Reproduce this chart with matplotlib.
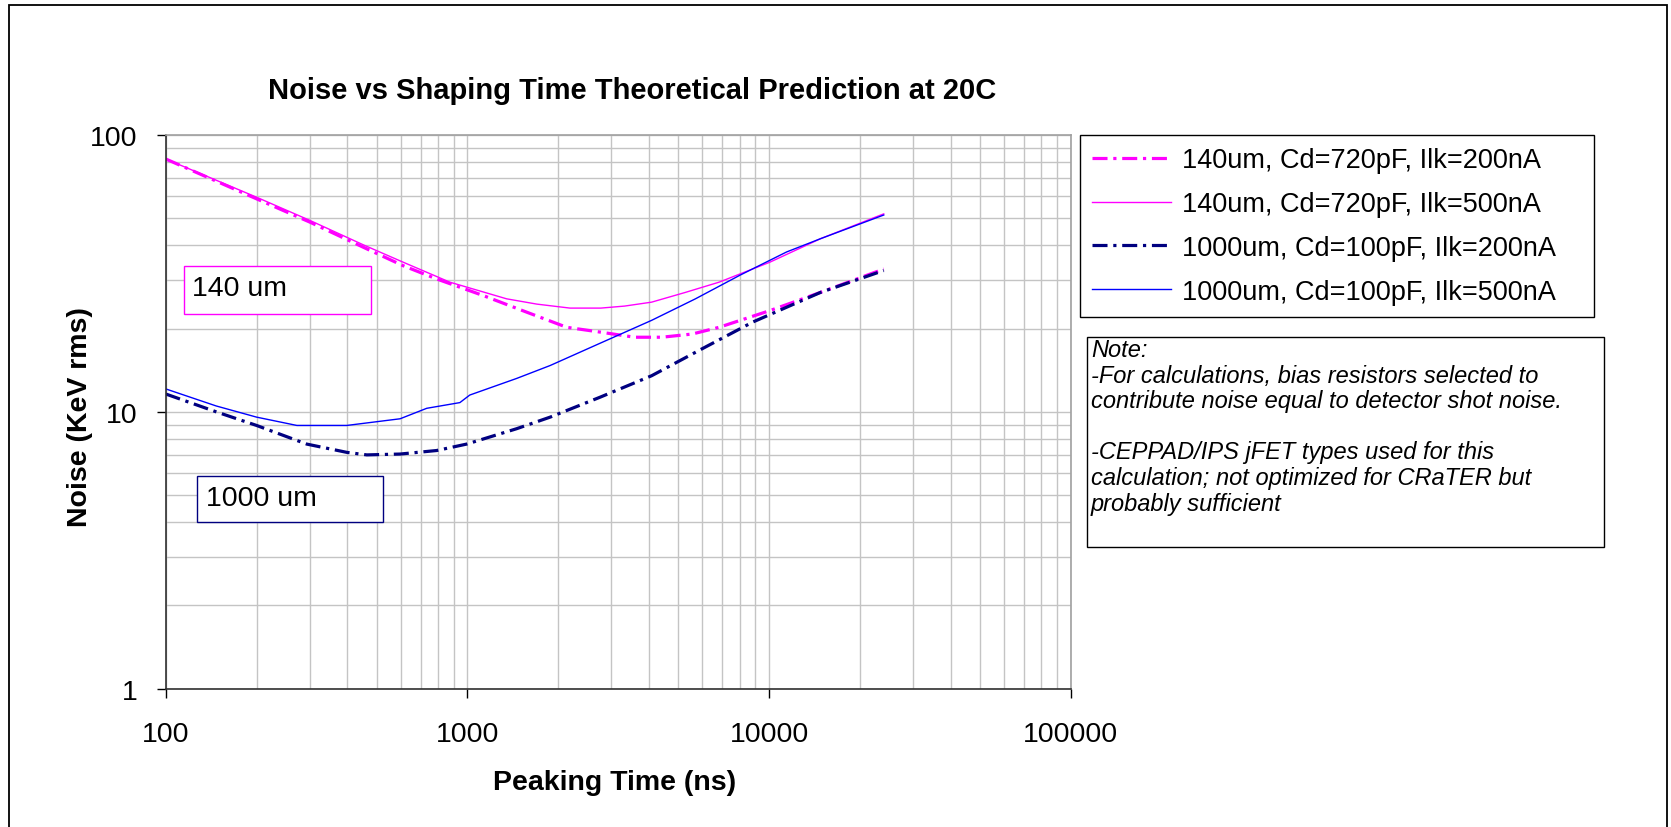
import numpy as np
import matplotlib
matplotlib.use('Agg')
import matplotlib.pyplot as plt
from matplotlib.patches import Rectangle
from matplotlib.ticker import FixedLocator, NullFormatter

plt.rcParams['font.family'] = ['Liberation Sans', 'DejaVu Sans']

# ---- data (peaking time ns, noise keV rms) ----
x_140_200 = [100, 200, 301, 452, 613, 791, 1129, 1574, 2135, 2767, 3584, 4406, 5558, 6826, 10050, 14800, 24000]
y_140_200 = [81.9, 58.8, 48.4, 39.3, 33.7, 30.2, 26.3, 22.9, 20.2, 19.4, 18.6, 18.6, 19.1, 20.2, 23.2, 27.0, 32.8]

x_140_500 = [100, 200, 301, 452, 613, 875, 1349, 1698, 2188, 2767, 3318, 4078, 5276, 6826, 10050, 14800, 24000]
y_140_500 = [81.9, 59.6, 49.1, 40.1, 34.7, 29.4, 25.6, 24.5, 23.7, 23.7, 24.1, 24.9, 27.0, 29.4, 34.7, 42.2, 51.9]

x_1000_200 = [100, 147, 200, 293, 398, 464, 598, 791, 995, 1455, 1880, 2755, 4078, 6000, 8830, 14800, 24000]
y_1000_200 = [11.6, 10.0, 8.93, 7.65, 7.14, 6.99, 7.04, 7.25, 7.65, 8.69, 9.57, 11.3, 13.5, 16.9, 21.1, 27.0, 32.4]

x_1000_500 = [100, 147, 200, 272, 398, 598, 733, 944, 1018, 1455, 1880, 2755, 4078, 5700, 7980, 11430, 14800, 24000]
y_1000_500 = [12.1, 10.5, 9.57, 8.93, 8.93, 9.44, 10.3, 10.8, 11.5, 13.2, 14.7, 17.7, 21.4, 25.6, 31.1, 37.8, 42.2, 51.4]

labels = ['140um, Cd=720pF, Ilk=200nA', '140um, Cd=720pF, Ilk=500nA',
          '1000um, Cd=100pF, Ilk=200nA', '1000um, Cd=100pF, Ilk=500nA']
x_ticks = [100, 1000, 10000, 100000]
y_ticks = [1, 10, 100]

note_lines = ['Note:',
              '-For calculations, bias resistors selected to',
              'contribute noise equal to detector shot noise.',
              '',
              '-CEPPAD/IPS jFET types used for this',
              'calculation; not optimized for CRaTER but',
              'probably sufficient']

W, H = 1671, 828


def fx(px):
    return px / W


def fy(py):
    return 1 - py / H


fig = plt.figure(figsize=(W / 100, H / 100), dpi=100)

# outer chart frame (open at the bottom, as in the reference)
fig.patches.append(Rectangle((fx(9), fy(840)), fx(1667) - fx(9), fy(6) - fy(840),
                             transform=fig.transFigure, fill=False, ec='black', lw=1.3))

ax = fig.add_axes([fx(165.8), fy(689.7), fx(1070.7) - fx(165.8), fy(136) - fy(689.7)])
ax.set_xscale('log')
ax.set_yscale('log')

dd = (4.7, 1.8, 1.0, 1.8)
ax.plot(x_140_200, y_140_200, color='#ff00ff', lw=2.3, dashes=dd, label=labels[0])
ax.plot(x_140_500, y_140_500, color='#ff00ff', lw=1.0, label=labels[1])
ax.plot(x_1000_200, y_1000_200, color='#000080', lw=2.3, dashes=dd, label=labels[2])
ax.plot(x_1000_500, y_1000_500, color='#0000ff', lw=1.0, label=labels[3])

ax.set_xlim(100, 100000)
ax.set_ylim(1, 100)
ax.xaxis.set_major_locator(FixedLocator(x_ticks))
ax.yaxis.set_major_locator(FixedLocator(y_ticks))
ax.set_xticklabels([str(v) for v in x_ticks])
ax.set_yticklabels([str(v) for v in y_ticks])
ax.xaxis.set_minor_formatter(NullFormatter())
ax.yaxis.set_minor_formatter(NullFormatter())
ax.tick_params(which='major', direction='out', length=6.5, width=1, labelsize=20.5, color='black')
ax.tick_params(axis='x', pad=17)
ax.tick_params(axis='y', pad=14)
ax.tick_params(which='minor', length=0)
ax.grid(which='both', color='#c4c4c4', lw=1.0)
ax.set_axisbelow(True)
for s in ['left', 'bottom']:
    ax.spines[s].set_color('#303030')
    ax.spines[s].set_linewidth(1.2)
for s in ['top', 'right']:
    ax.spines[s].set_color('#a0a0a0')
    ax.spines[s].set_linewidth(1.2)

leg = ax.legend(bbox_to_anchor=(fx(1080), fy(315), fx(1594) - fx(1080), fy(136) - fy(315)),
                bbox_transform=fig.transFigure, loc='upper left', mode='expand',
                borderaxespad=0, fontsize=19.5, handlelength=2.9, handletextpad=0.4,
                borderpad=0.45, labelspacing=0.66, fancybox=False, framealpha=1)
leg.get_frame().set_edgecolor('black')
leg.get_frame().set_linewidth(1.0)

# titles and axis labels
fig.text(fx(632), fy(91), 'Noise vs Shaping Time Theoretical Prediction at 20C',
         ha='center', va='center', fontsize=21, fontweight='bold')
fig.text(fx(614.5), fy(783), 'Peaking Time (ns)', ha='center', va='center',
         fontsize=20.5, fontweight='bold')
fig.text(fx(80), fy(417), 'Noise (KeV rms)', ha='center', va='center',
         rotation=90, fontsize=20.5, fontweight='bold')

# labelled boxes inside the plot
fig.patches.append(Rectangle((fx(184.3), fy(315.3)), fx(370.7) - fx(184.3), fy(266.7) - fy(315.3),
                             transform=fig.transFigure, fc='white', ec='#ff00ff', lw=1.0, zorder=3))
fig.text(fx(192), fy(289), '140 um', ha='left', va='center', fontsize=20.5, zorder=4)
fig.patches.append(Rectangle((fx(197.3), fy(523)), fx(383.3) - fx(197.3), fy(477.3) - fy(523),
                             transform=fig.transFigure, fc='white', ec='#000080', lw=1.0, zorder=3))
fig.text(fx(206), fy(499), '1000 um', ha='left', va='center', fontsize=20.5, zorder=4)

# note box
fig.patches.append(Rectangle((fx(1086.7), fy(548.3)), fx(1604) - fx(1086.7), fy(338) - fy(548.3),
                             transform=fig.transFigure, fc='white', ec='black', lw=1.0))
for i, line in enumerate(note_lines):
    fig.text(fx(1091), fy(351 + i * 25.5), line, ha='left', va='center',
             fontsize=17, fontstyle='italic')

fig.savefig('out.png', dpi=100)
